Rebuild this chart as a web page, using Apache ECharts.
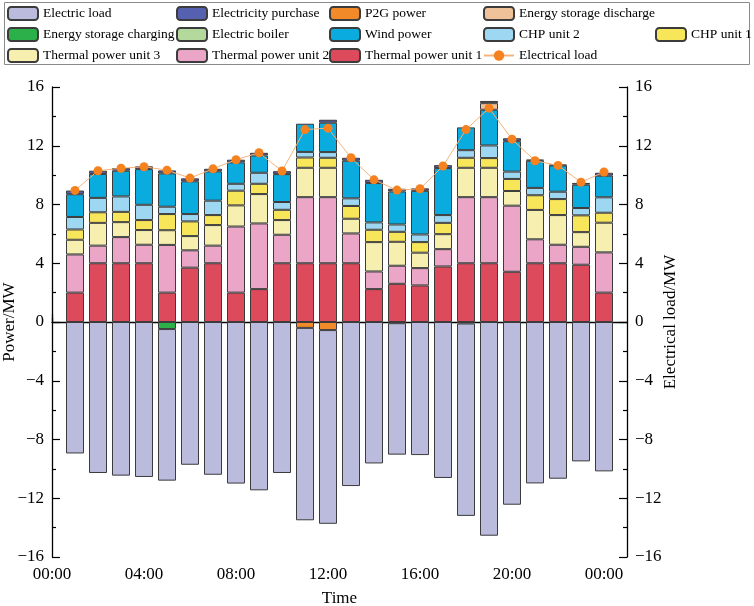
<!DOCTYPE html>
<html>
<head>
<meta charset="utf-8">
<script src="https://cdn.jsdelivr.net/npm/echarts@6/dist/echarts.min.js"></script>
<style>html,body{margin:0;padding:0;background:#fff}#c{width:754px;height:606px}</style>
</head>
<body>
<div id="c"></div>
<script>
// x slots: hour 0 .. 25; bars sit at hours 1..24
const slots = ['0','1','2','3','4','5','6','7','8','9','10','11','12','13','14','15','16','17','18','19','20','21','22','23','24','25'];
const xTickLabels = {'0':'00:00','4':'04:00','8':'08:00','12':'12:00','16':'16:00','20':'20:00','24':'00:00'};

const thermal1 = [2.0,4.0,4.0,4.0,2.0,3.7,4.0,2.0,2.24,4.0,4.0,4.0,4.0,2.24,2.6,2.49,3.78,4.0,4.0,3.42,4.0,4.0,3.9,2.0];
const thermal2 = [2.6,1.2,1.78,1.26,3.25,1.18,1.2,4.5,4.47,1.94,4.5,4.5,2.03,1.2,1.23,1.18,1.18,4.5,4.5,4.5,1.63,1.26,1.22,2.74];
const thermal3 = [1.0,1.55,1.02,1.0,1.0,0.97,1.4,1.44,2.0,1.0,2.0,2.0,1.0,2.0,1.63,1.05,1.02,2.0,2.0,1.0,2.0,2.02,1.0,2.02];
const chp1     = [0.7,0.72,0.7,0.68,1.1,1.0,0.68,1.0,0.7,0.7,0.7,0.68,0.87,0.84,0.68,0.72,0.77,0.68,0.66,0.82,1.0,1.09,1.14,0.68];
const chp2     = [0.85,0.98,1.05,1.04,0.5,0.5,0.98,0.47,0.75,0.53,0.38,0.39,0.52,0.5,0.5,0.52,0.53,0.52,0.86,0.5,0.5,0.5,0.5,1.05];
const wind     = [1.55,1.63,1.75,2.43,2.27,2.23,2.0,1.46,1.18,1.9,1.92,2.0,2.56,2.68,2.25,2.97,3.2,1.55,2.43,2.07,1.85,1.79,1.59,1.47];
const boiler   = [null,null,null,null,null,null,null,null,null,null,null,null,null,null,null,null,null,null,null,null,null,null,null,null];
const charging = [null,null,null,null,-0.48,null,null,null,null,null,null,null,null,null,-0.08,null,null,-0.1,null,null,null,null,null,null];
const discharge= [null,null,null,null,null,null,null,null,null,null,null,null,null,null,null,null,null,null,0.45,null,null,null,null,null];
const p2g      = [null,null,null,null,null,null,null,null,null,null,-0.4,-0.55,null,null,null,null,null,null,null,null,null,null,null,null];
const purchase = [0.25,0.22,0.18,0.19,0.2,0.2,0.17,0.18,0.18,0.2,null,0.2,0.2,0.22,0.18,0.17,0.2,null,0.15,0.2,0.08,0.05,0.12,0.2];
const electricLoad = [-8.95,-10.28,-10.46,-10.55,-10.32,-9.72,-10.4,-11.0,-11.46,-10.28,-13.1,-13.19,-11.17,-9.63,-8.95,-9.06,-10.62,-13.1,-14.55,-12.44,-10.99,-10.67,-9.49,-10.17];
const electricalLoadLine = [8.96,10.3,10.47,10.57,10.34,9.8,10.43,11.05,11.52,10.28,13.1,13.2,11.18,9.68,8.98,9.07,10.62,13.1,14.56,12.45,10.98,10.66,9.52,10.21];

// pad with empty slot at hour 0 and hour 25
const padded = arr => [null].concat(arr, [null]);
const FONT = '"Liberation Serif", "Times New Roman", serif';
const border = {borderColor: '#3c3c3c', borderWidth: 1};

function bar(name, arr, color) {
  return {
    name: name, type: 'bar', stack: 'p', barWidth: 18,
    data: padded(arr),
    itemStyle: Object.assign({color: color}, border),
    emphasis: {disabled: true}
  };
}

const series = [
  bar('Thermal power unit 1', thermal1, '#dc4a5c'),
  bar('Thermal power unit 2', thermal2, '#eba5c6'),
  bar('Thermal power unit 3', thermal3, '#f7efaf'),
  bar('CHP unit 1', chp1, '#f8e65a'),
  bar('CHP unit 2', chp2, '#9dd7f2'),
  bar('Wind power', wind, '#0aabdf'),
  bar('Electric boiler', boiler, '#b3d99c'),
  bar('Energy storage charging', charging, '#2bb04a'),
  bar('Energy storage discharge', discharge, '#efc29a'),
  bar('P2G power', p2g, '#f28a2a'),
  bar('Electricity purchase', purchase, '#5660b0'),
  bar('Electric load', electricLoad, '#babbdd'),
  {
    name: 'Electrical load', type: 'line', yAxisIndex: 1,
    data: padded(electricalLoadLine),
    symbol: 'circle', symbolSize: 9,
    lineStyle: {color: '#f7b27a', width: 1},
    itemStyle: {color: '#f5821f'},
    z: 5
  }
];

const legendCols = [
  {left: 7,   top: 6,  data: ['Electric load', 'Energy storage charging', 'Thermal power unit 3']},
  {left: 176, top: 6,  data: ['Electricity purchase', 'Electric boiler', 'Thermal power unit 2']},
  {left: 329, top: 6,  data: ['P2G power', 'Wind power', 'Thermal power unit 1']},
  {left: 483, top: 6,  data: ['Energy storage discharge', 'CHP unit 2', 'Electrical load']},
  {left: 655, top: 27, data: ['CHP unit 1']}
];

const axisLine = {show: true, lineStyle: {color: '#000', width: 1.3}};
const labelStyle = {color: '#000', fontFamily: FONT, fontSize: 17};

function yAxis(pos, name, gap) {
  return {
    type: 'value', position: pos, min: -16, max: 16, interval: 4,
    name: name, nameLocation: 'middle', nameRotate: 90, nameGap: gap, nameMoveOverlap: false,
    nameTextStyle: {color: '#000', fontFamily: FONT, fontSize: 17},
    axisLine: axisLine,
    axisTick: {show: true, inside: true, length: 8, lineStyle: {color: '#000', width: 1.2}},
    minorTick: {show: true, splitNumber: 2, length: 4, lineStyle: {color: '#000', width: 1.2}},
    axisLabel: Object.assign({margin: 8, formatter: v => String(v).replace('-', '\u2212')}, labelStyle),
    splitLine: {show: false}
  };
}

const option = {
  animation: false,
  textStyle: {fontFamily: FONT},
  graphic: [{
    type: 'rect', shape: {x: 4.5, y: 2.5, width: 745, height: 62},
    style: {fill: 'none', stroke: '#8a8a8a', lineWidth: 1}, silent: true
  }],
  legend: legendCols.map(c => ({
    orient: 'vertical', left: c.left, top: c.top, data: c.data,
    itemWidth: 30, itemHeight: 13, itemGap: 6,
    textStyle: {color: '#000', fontFamily: FONT, fontSize: 13.5, lineHeight: 15},
    selectedMode: false, padding: 0
  })),
  grid: {left: 52, right: 127, top: 87, bottom: 49, containLabel: false, outerBoundsMode: 'none'},
  xAxis: [
    {
      type: 'category', data: slots, boundaryGap: false, position: 'bottom',
      name: 'Time', nameLocation: 'middle', nameGap: 33,
      nameTextStyle: {color: '#000', fontFamily: FONT, fontSize: 17},
      axisLine: axisLine,
      axisTick: {show: true, inside: true, length: 8, interval: 3, lineStyle: {color: '#000', width: 1.2}},
      axisLabel: Object.assign({margin: 9, interval: 3, formatter: v => xTickLabels[v] || ''}, labelStyle),
      splitLine: {show: false}
    },
    {
      type: 'category', data: slots, boundaryGap: false, position: 'bottom',
      axisLine: {show: false},
      axisTick: {show: true, inside: true, length: 4, interval: 1, lineStyle: {color: '#000', width: 1.2}},
      axisLabel: {show: false},
      splitLine: {show: false}
    }
  ],
  yAxis: [yAxis('left', 'Power/MW', 34), yAxis('right', 'Electrical load/MW', 35)],
  series: series
};

echarts.init(document.getElementById('c')).setOption(option);
</script>
</body>
</html>
